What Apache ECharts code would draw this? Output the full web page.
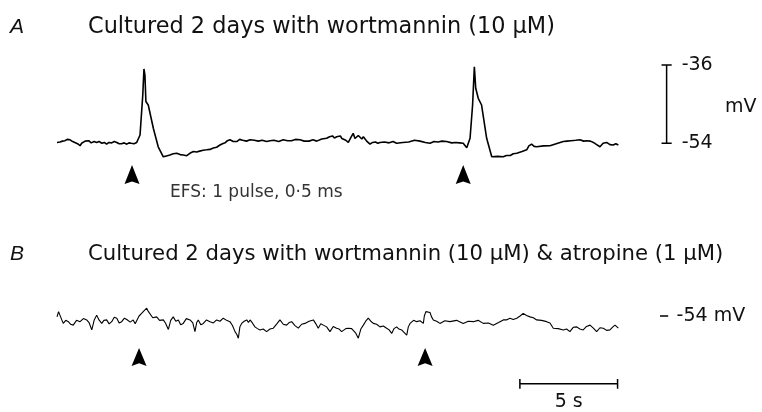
<!DOCTYPE html>
<html>
<head>
    <meta charset="utf-8" />
    <title>EFS traces</title>
    <script src="https://cdn.jsdelivr.net/npm/echarts@6/dist/echarts.min.js"></script>
</head>
<body style="margin:0;background:#fff">
    <div id="main" style="width:762px;height:412px;"></div>
    <script type="text/javascript">
        // membrane potential traces, [time (s), potential (mV)]
        var traceA = [
            [0, -53.8], [0.08, -53.6], [0.15, -53.7], [0.28, -53.5], [0.4, -53.4], [0.52, -53.1], [0.67, -53.2], [0.8, -53.6],
            [0.9, -53.6], [1.05, -54.1], [1.18, -54.55], [1.26, -54.0], [1.35, -53.9], [1.44, -53.5], [1.52, -53.6], [1.62, -53.4],
            [1.75, -53.9], [1.9, -53.6], [2.03, -53.8], [2.15, -53.6], [2.3, -54.0], [2.42, -53.8], [2.54, -54.2], [2.66, -53.8],
            [2.8, -53.9], [2.93, -53.6], [3.06, -53.8], [3.18, -54.1], [3.3, -54.1], [3.44, -53.9], [3.57, -54.2], [3.68, -53.9],
            [3.8, -54.0], [3.94, -54.1], [4.08, -53.8], [4.17, -53.5], [4.25, -52.1], [4.39, -42.9], [4.45, -36.9], [4.5, -38.3],
            [4.55, -44.4], [4.67, -45.2], [4.93, -50.55], [5.18, -54.8], [5.44, -57.1], [5.6, -56.9], [5.78, -56.7], [5.95, -56.4],
            [6.13, -56.3], [6.3, -56.6], [6.46, -56.7], [6.64, -56.85], [6.8, -56.3], [6.98, -55.9], [7.15, -56.0], [7.3, -55.8],
            [7.48, -55.6], [7.66, -55.5], [7.83, -55.4], [8.0, -55.1], [8.17, -54.9], [8.34, -54.4], [8.47, -54.1], [8.6, -53.9],
            [8.72, -53.4], [8.85, -53.2], [9.02, -53.6], [9.2, -53.6], [9.35, -53.1], [9.5, -53.3], [9.7, -53.5], [9.88, -53.2],
            [10.1, -53.3], [10.3, -53.5], [10.5, -53.3], [10.73, -53.6], [10.9, -53.4], [11.1, -53.3], [11.35, -53.6], [11.58, -53.2],
            [11.8, -53.4], [12.0, -53.4], [12.2, -53.1], [12.44, -53.2], [12.65, -53.5], [12.9, -53.5], [13.1, -53.2], [13.29, -53.5],
            [13.55, -53.0], [13.8, -52.85], [13.95, -52.5], [14.1, -52.3], [14.2, -52.8], [14.31, -52.5], [14.4, -52.1], [14.5, -52.3],
            [14.58, -52.9], [14.65, -52.85], [14.78, -53.3], [14.91, -53.8], [15.05, -52.6], [15.16, -51.7], [15.25, -52.9], [15.34, -52.85],
            [15.42, -52.2], [15.5, -52.3], [15.6, -53.0], [15.68, -52.5], [15.85, -53.5], [16.02, -54.2], [16.15, -53.8], [16.3, -53.7],
            [16.42, -54.0], [16.53, -53.8], [16.75, -53.7], [17.0, -53.9], [17.2, -53.6], [17.38, -54.0], [17.7, -53.8], [18.0, -53.7],
            [18.3, -53.3], [18.58, -53.5], [18.85, -53.8], [19.09, -54.0], [19.3, -53.6], [19.5, -53.7], [19.7, -53.5], [19.94, -53.6],
            [20.2, -53.9], [20.4, -53.8], [20.6, -53.9], [20.79, -54.0], [20.97, -55.0], [21.14, -52.85], [21.27, -45.2], [21.36, -36.4],
            [21.43, -41.35], [21.56, -43.65], [21.73, -45.2], [21.99, -52.85], [22.25, -57.1], [22.55, -57.0], [22.84, -57.1], [23.0, -56.8],
            [23.2, -56.8], [23.35, -56.4], [23.53, -56.3], [23.8, -55.9], [24.04, -55.5], [24.15, -54.6], [24.29, -54.2], [24.42, -54.7],
            [24.55, -54.8], [24.9, -54.6], [25.23, -54.55], [25.55, -54.1], [25.91, -53.6], [26.1, -53.5], [26.3, -53.4], [26.55, -53.3],
            [26.77, -53.2], [26.95, -53.5], [27.1, -53.4], [27.3, -53.5], [27.45, -53.8], [27.62, -54.3], [27.79, -54.8], [27.95, -54.0],
            [28.13, -53.8], [28.3, -54.3], [28.47, -54.4], [28.6, -54.1], [28.73, -54.4]
        ];
        var traceB = [
            [0, -54.2], [0.08, -53.0], [0.15, -53.4], [0.22, -54.6], [0.32, -55.7], [0.45, -55.0], [0.58, -55.3], [0.7, -55.9],
            [0.83, -56.1], [1.0, -55.0], [1.18, -55.3], [1.35, -54.6], [1.52, -54.9], [1.65, -55.6], [1.78, -57.2], [1.9, -55.0],
            [2.03, -53.8], [2.15, -54.9], [2.29, -55.7], [2.4, -55.0], [2.54, -54.9], [2.67, -55.8], [2.8, -55.3], [2.93, -54.3],
            [3.06, -54.5], [3.18, -55.6], [3.31, -55.3], [3.45, -54.5], [3.57, -54.8], [3.75, -55.4], [3.9, -54.9], [4.0, -55.8],
            [4.08, -55.5], [4.2, -54.0], [4.33, -53.4], [4.45, -52.8], [4.59, -52.2], [4.68, -53.0], [4.76, -53.4], [4.9, -54.4],
            [5.1, -54.2], [5.25, -55.0], [5.44, -54.9], [5.55, -55.6], [5.7, -57.1], [5.82, -55.0], [5.95, -54.2], [6.08, -55.2],
            [6.21, -54.9], [6.33, -56.0], [6.46, -55.7], [6.62, -54.6], [6.81, -54.9], [6.95, -55.6], [7.06, -57.6], [7.15, -55.5],
            [7.23, -54.9], [7.36, -56.0], [7.49, -55.7], [7.65, -54.9], [7.83, -55.3], [8.0, -55.6], [8.17, -54.9], [8.34, -55.2],
            [8.51, -54.5], [8.68, -55.0], [8.85, -55.3], [8.98, -56.2], [9.11, -57.6], [9.2, -58.2], [9.28, -59.1], [9.36, -56.5],
            [9.45, -55.7], [9.58, -55.2], [9.71, -54.9], [9.8, -55.5], [9.88, -54.9], [10.0, -55.6], [10.13, -56.5], [10.26, -56.9],
            [10.39, -57.2], [10.55, -57.0], [10.73, -57.6], [10.9, -57.0], [11.07, -56.8], [11.25, -55.8], [11.41, -54.9], [11.58, -55.9],
            [11.75, -56.1], [11.88, -55.5], [12.01, -55.3], [12.18, -56.2], [12.35, -56.8], [12.52, -55.9], [12.69, -55.7], [12.9, -55.2],
            [13.12, -54.9], [13.25, -55.8], [13.37, -56.8], [13.5, -55.8], [13.63, -56.1], [13.8, -56.5], [13.97, -57.6], [14.14, -56.4],
            [14.31, -56.8], [14.44, -57.0], [14.57, -57.6], [14.65, -58.0], [14.78, -56.9], [14.91, -56.8], [14.99, -56.5], [15.08, -56.9],
            [15.16, -57.2], [15.3, -58.0], [15.42, -59.1], [15.55, -57.0], [15.68, -56.1], [15.8, -55.2], [15.93, -54.5], [16.06, -55.2],
            [16.19, -55.7], [16.36, -55.9], [16.53, -56.5], [16.7, -56.3], [16.87, -56.8], [17.0, -57.2], [17.13, -58.0], [17.25, -56.9],
            [17.38, -56.5], [17.5, -57.0], [17.64, -57.2], [17.77, -57.8], [17.9, -58.4], [17.98, -56.5], [18.07, -55.7], [18.25, -55.0],
            [18.41, -55.3], [18.58, -55.1], [18.75, -55.7], [18.8, -54.0], [18.88, -53.0], [18.98, -53.0], [19.09, -53.2], [19.17, -54.2],
            [19.26, -54.9], [19.43, -55.2], [19.6, -55.7], [19.85, -55.1], [20.11, -55.3], [20.45, -55.0], [20.79, -55.7], [21.05, -55.2],
            [21.31, -55.3], [21.55, -55.0], [21.82, -55.7], [22.08, -55.6], [22.33, -56.1], [22.6, -55.5], [22.84, -54.9], [23.0, -54.9],
            [23.18, -54.5], [23.35, -54.8], [23.53, -54.5], [23.7, -54.0], [23.86, -53.4], [24.03, -53.9], [24.21, -54.2], [24.38, -54.4],
            [24.55, -54.9], [24.8, -55.0], [25.06, -55.3], [25.23, -55.6], [25.4, -56.8], [25.65, -56.9], [25.91, -57.2], [26.08, -57.0],
            [26.25, -57.6], [26.42, -56.6], [26.6, -56.5], [26.76, -57.0], [26.93, -57.2], [27.1, -56.4], [27.28, -56.1], [27.45, -56.8],
            [27.62, -57.6], [27.79, -56.7], [27.96, -56.8], [28.13, -57.3], [28.3, -57.2], [28.45, -56.5], [28.56, -56.1], [28.73, -56.8]
        ];

        // stimulus times (s) and the level the arrowheads sit at (mV)
        var stimA = [3.84, 20.79];
        var stimB = [4.2, 18.84];
        var stimLevelA = -61.2;
        var stimLevelB = -63.4;

        // calibration bars
        var voltBarTime = 31.2;
        var voltBarEnds = [-36, -54];
        var restB = -54;
        var timeBarRange = [23.69, 28.69];
        var timeBarLevel = -69.6;

        var titleA = 'Cultured 2 days with wortmannin (10 \u00b5M)';
        var titleB = 'Cultured 2 days with wortmannin (10 \u00b5M) & atropine (1 \u00b5M)';
        var efsText = 'EFS: 1 pulse, 0\u00b75 ms';

        var ink = '#000';
        var labelFont = { color: '#111', fontFamily: 'DejaVu Sans', fontSize: 19 };
        var arrowHead = 'path://M50,0 L100,100 L50,86 L0,100 Z';

        var myChart = echarts.init(document.getElementById('main'));

        var cap = 0.26;
        var voltBar = [
            [voltBarTime - cap, voltBarEnds[0]], [voltBarTime + cap, voltBarEnds[0]],
            [voltBarTime, voltBarEnds[0]], [voltBarTime, voltBarEnds[1]],
            [voltBarTime - cap, voltBarEnds[1]], [voltBarTime + cap, voltBarEnds[1]]
        ];
        var timeBar = [
            [timeBarRange[0], timeBarLevel + 1.1], [timeBarRange[0], timeBarLevel - 1.1],
            [timeBarRange[0], timeBarLevel], [timeBarRange[1], timeBarLevel],
            [timeBarRange[1], timeBarLevel + 1.1], [timeBarRange[1], timeBarLevel - 1.1]
        ];

        function textPoint(x, y, text) {
            return { value: [x, y], name: text };
        }

        function arrows(times, level) {
            return times.map(function (t) { return [t, level]; });
        }

        function labelSeries(gridIdx, data, position, distance) {
            return {
                type: 'scatter', xAxisIndex: gridIdx, yAxisIndex: gridIdx, symbolSize: 0, clip: false,
                itemStyle: { opacity: 1 }, data: data,
                label: Object.assign({ show: true, position: position, distance: distance, formatter: '{b}' }, labelFont)
            };
        }

        var option = {
            animation: false,
            backgroundColor: '#fff',
            grid: [
                { left: 57, top: 47.6, width: 703.4, height: 130.5 },
                { left: 57, top: 272.5, width: 703.4, height: 130.5 }
            ],
            xAxis: [
                { type: 'value', gridIndex: 0, min: 0, max: 36, show: false },
                { type: 'value', gridIndex: 1, min: 0, max: 36, show: false }
            ],
            yAxis: [
                { type: 'value', gridIndex: 0, min: -62, max: -32, show: false },
                { type: 'value', gridIndex: 1, min: -74, max: -44, show: false }
            ],
            graphic: [
                { type: 'text', x: 10, y: 27, style: { text: 'A', font: 'italic 21px "Liberation Sans"', fill: '#111', verticalAlign: 'middle' } },
                { type: 'text', x: 88, y: 27, style: { text: titleA, font: '22.4px "DejaVu Sans"', fill: '#111', verticalAlign: 'middle' } },
                { type: 'text', x: 170, y: 193, style: { text: efsText, font: '17px "DejaVu Sans"', fill: '#333', verticalAlign: 'middle' } },
                { type: 'text', x: 10, y: 254, style: { text: 'B', font: 'italic 21px "Liberation Sans"', fill: '#111', verticalAlign: 'middle' } },
                { type: 'text', x: 88, y: 254, style: { text: titleB, font: '21.2px "DejaVu Sans"', fill: '#111', verticalAlign: 'middle' } }
            ],
            series: [
                {
                    type: 'line', xAxisIndex: 0, yAxisIndex: 0, data: traceA,
                    showSymbol: false, lineStyle: { color: ink, width: 1.6 }
                },
                {
                    type: 'line', xAxisIndex: 1, yAxisIndex: 1, data: traceB,
                    showSymbol: false, lineStyle: { color: ink, width: 1.1 }
                },
                {
                    type: 'scatter', xAxisIndex: 0, yAxisIndex: 0, data: arrows(stimA, stimLevelA),
                    symbol: arrowHead, symbolSize: [15, 19], itemStyle: { color: ink, opacity: 1 }, clip: false
                },
                {
                    type: 'scatter', xAxisIndex: 1, yAxisIndex: 1, data: arrows(stimB, stimLevelB),
                    symbol: arrowHead, symbolSize: [15, 18], itemStyle: { color: ink, opacity: 1 }, clip: false
                },
                {
                    type: 'line', xAxisIndex: 0, yAxisIndex: 0, data: voltBar, clip: false,
                    showSymbol: false, lineStyle: { color: ink, width: 1.5 }
                },
                {
                    type: 'line', xAxisIndex: 1, yAxisIndex: 1, data: timeBar, clip: false,
                    showSymbol: false, lineStyle: { color: ink, width: 1.5 }
                },
                {
                    type: 'line', xAxisIndex: 1, yAxisIndex: 1, clip: false,
                    data: [[voltBarTime - 0.34, restB], [voltBarTime + 0.08, restB]],
                    showSymbol: false, lineStyle: { color: ink, width: 1.5 }
                },
                labelSeries(0, [
                    textPoint(voltBarTime + 0.77, voltBarEnds[0], '-36'),
                    textPoint(voltBarTime + 0.77, voltBarEnds[1], '-54'),
                    textPoint(voltBarTime + 2.99, (voltBarEnds[0] + voltBarEnds[1]) / 2 - 0.65, 'mV')
                ], 'right', 0),
                labelSeries(1, [textPoint(voltBarTime + 0.51, restB, '-54 mV')], 'right', 0),
                labelSeries(1, [textPoint((timeBarRange[0] + timeBarRange[1]) / 2, timeBarLevel, '5 s')], 'bottom', 9)
            ]
        };

        myChart.setOption(option);
    </script>
</body>
</html>
